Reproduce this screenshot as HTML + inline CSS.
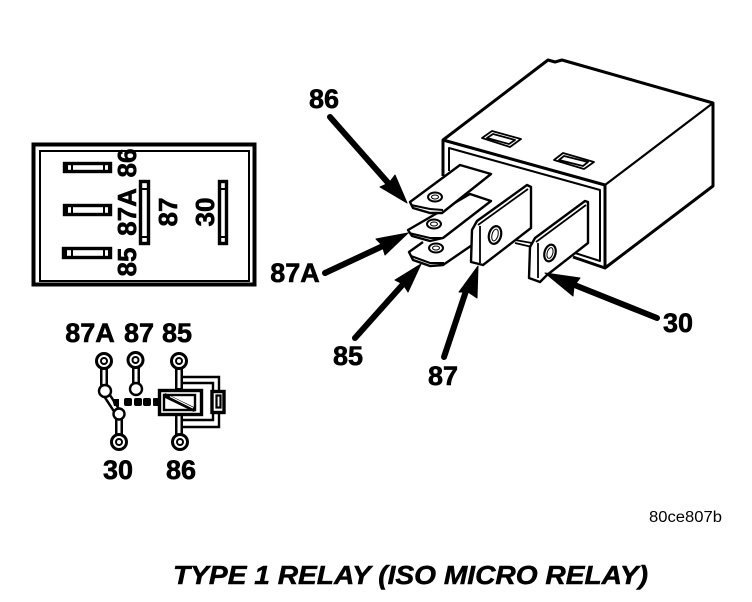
<!DOCTYPE html>
<html><head><meta charset="utf-8"><style>
html,body{margin:0;padding:0;background:#fff;width:752px;height:602px;overflow:hidden}
svg{display:block}
text{font-family:"Liberation Sans",sans-serif;font-weight:bold;fill:#000}
.l{font-size:27px;text-anchor:middle;stroke:#000;stroke-width:.6px}
.r{font-size:26px;text-anchor:middle;stroke:#000;stroke-width:.6px}
</style></head><body>
<svg width="752" height="602" viewBox="0 0 752 602" xmlns="http://www.w3.org/2000/svg">
<!-- Pin box -->
<g fill="none" stroke="#000">
<rect x="33.500" y="144.500" width="221" height="140" stroke-width="4"/>
<rect x="40" y="151" width="209" height="130" stroke-width="2"/>
<g stroke-width="3.400" fill="#fff">
<rect x="64.500" y="163.500" width="46" height="8"/>
<rect x="64.500" y="205.500" width="46" height="9"/>
<rect x="63.500" y="248.500" width="47" height="9"/>
<rect x="140.500" y="181.500" width="8" height="62"/>
<rect x="219.500" y="181.500" width="7" height="62"/>
</g>
</g>
<g fill="#000"><rect x="64" y="163" width="4" height="9"/><rect x="71" y="163" width="2" height="9"/><rect x="103" y="163" width="2" height="9"/><rect x="108" y="163" width="3" height="9"/><rect x="64" y="205" width="4" height="10"/><rect x="71" y="205" width="2" height="10"/><rect x="103" y="205" width="2" height="10"/><rect x="108" y="205" width="3" height="10"/><rect x="63" y="248" width="4" height="10"/><rect x="71" y="248" width="2" height="10"/><rect x="103" y="248" width="2" height="10"/><rect x="108" y="248" width="3" height="10"/><rect x="140" y="188" width="9" height="2"/><rect x="140" y="236" width="9" height="2"/><rect x="219" y="188" width="8" height="2"/><rect x="219" y="236" width="8" height="2"/></g>
<g>
<text class="r" transform="translate(136,163) rotate(-90)">86</text>
<text class="r" transform="translate(136,212) rotate(-90)">87A</text>
<text class="r" transform="translate(136,262) rotate(-90)">85</text>
<text class="r" transform="translate(177,212) rotate(-90)">87</text>
<text class="r" transform="translate(214,212) rotate(-90)">30</text>
</g>
<!-- Schematic -->
<text class="l" x="90" y="342">87A</text>
<text class="l" x="139" y="342">87</text>
<text class="l" x="177" y="342">85</text>
<text class="l" x="118" y="479">30</text>
<text class="l" x="181" y="479">86</text>
<g fill="none" stroke-linecap="butt">
<g stroke="#000" stroke-width="8">
<path d="M104 361V391L119 414V442"/><path d="M136 361V389"/><path d="M179 361V442"/>
</g>
<g stroke="#fff" stroke-width="3">
<path d="M104 366V391L119 414V436"/><path d="M136 366V385"/><path d="M179 366V388M179 416V436"/>
</g>
<g stroke="#000" stroke-width="2.400">
<path d="M183 377H219V391M183 383H213V391M183 420H213V413M183 427H219V412"/>
<rect x="159.500" y="390.500" width="42" height="24" stroke-width="3.400" fill="#fff"/>
<rect x="164" y="395" width="31" height="15" stroke-width="2.400"/>
<path d="M164 395L195 410" stroke-width="4.500"/><path d="M170 396.500L193 408" stroke="#fff" stroke-width="1.200"/>
<rect x="212" y="391.500" width="12" height="21" stroke-width="3.400" fill="#fff"/>
<rect x="216.500" y="395.500" width="4" height="12" stroke-width="2.200"/>
</g>
</g>
<g fill="#000"><path d="M112 399h7v7h-5z"/><rect x="124" y="398" width="8" height="8" rx="2"/><rect x="134" y="398" width="8" height="8" rx="2"/><rect x="143" y="398" width="8" height="8" rx="2"/><rect x="153" y="398" width="6" height="8" rx="1"/></g>
<g fill="#fff" stroke="#000"><circle cx="105" cy="391" r="6" stroke-width="2.400"/><circle cx="136" cy="389" r="6" stroke-width="2.400"/><circle cx="119" cy="414" r="5.500" stroke-width="2.400"/>
<g stroke-width="3">
<circle cx="104" cy="361" r="7.500"/><circle cx="135.500" cy="360" r="7.500"/><circle cx="179" cy="361" r="7.500"/><circle cx="119" cy="442" r="7.500"/><circle cx="180" cy="442" r="7.500"/>
<circle cx="104" cy="361" r="3" stroke-width="2"/><circle cx="135.500" cy="360" r="3" stroke-width="2"/><circle cx="179" cy="361" r="3" stroke-width="2"/><circle cx="119" cy="442" r="3" stroke-width="2"/><circle cx="180" cy="442" r="3" stroke-width="2"/>
</g></g>
<!-- Relay body -->
<g fill="none" stroke="#000" stroke-linejoin="round">
<path d="M443 176V140L548 60L555 62L562 60L713 103V186L605 268L573 257" stroke-width="3"/>
<path d="M443 140L605 185V268" stroke-width="3"/>
<path d="M605 185L713 103" stroke-width="2.200"/>
<path d="M449 171V148L600 190V261L575 253" stroke-width="2"/>
<path d="M482 138L492 131L521 139L510 147Z M487 138L493 134L515 140L509 144Z" stroke-width="1.800"/>
<path d="M554 160L563 153L594 162L584 169Z M559 160L564 156L588 162L583 166Z" stroke-width="1.800"/>
<path d="M515 240L532 243M515 243L532 247" stroke-width="1.800"/>
</g>
<!-- Tabs -->
<g fill="#fff" stroke="#000" stroke-linejoin="round">
<path d="M423 242L409 252L413 260L430 266L443 265L478 241" stroke-width="2.400"/>
<path d="M411 256L430 263L444 263" stroke-width="2" fill="none"/>
<ellipse cx="436" cy="248" rx="7" ry="4.500" stroke-width="2"/><ellipse cx="436" cy="248" rx="3.500" ry="2" stroke-width="1"/>
<path d="M408 230L470 194L491 201L443 238L430 241L412 236Z" stroke-width="2.400"/>
<path d="M409 233L430 238L443 238" stroke-width="2" fill="none"/>
<ellipse cx="434" cy="224" rx="7" ry="4.500" stroke-width="2"/><ellipse cx="434" cy="224" rx="3.500" ry="2" stroke-width="1"/>
<path d="M410 202L460 165L491 174L442 213L430 213L413 208Z" stroke-width="2.400"/>
<path d="M411 205L430 209L443 210" stroke-width="2" fill="none"/>
<ellipse cx="435" cy="197" rx="7" ry="4.500" stroke-width="2"/><ellipse cx="435" cy="197" rx="3.500" ry="2" stroke-width="1"/>
<path d="M471 262L472 230L477 221L527 185L531 187V228L483 265Z" stroke-width="2.400"/>
<path d="M478 225L528 189M480 226V263" fill="none" stroke-width="1.800"/>
<ellipse cx="495" cy="235" rx="6" ry="9" transform="rotate(15 495 235)" stroke-width="2.200"/><ellipse cx="495" cy="235" rx="3" ry="6" transform="rotate(15 495 235)" stroke-width="1"/>
<path d="M529 278L530 247L535 238L585 201L588 202V243L547 275L540 282Z" stroke-width="2.400"/>
<path d="M536 242L586 205M538 243V278" fill="none" stroke-width="1.800"/>
<ellipse cx="550" cy="253" rx="5.500" ry="8.500" transform="rotate(15 550 253)" stroke-width="2.200"/><ellipse cx="550" cy="253" rx="2.800" ry="5.500" transform="rotate(15 550 253)" stroke-width="1"/>
</g>
<!-- Arrows -->
<g stroke="#000" stroke-width="6" stroke-linecap="round" fill="none">
<path d="M330 117L390 185"/><path d="M325 273L385 245"/><path d="M355 338L405 282"/><path d="M444 357L468 285"/><path d="M657 318L572 284"/>
</g>
<g fill="#000" stroke="#000" stroke-width="1" stroke-linejoin="round">
<polygon points="407,203 380,187 389,183 395,175"/>
<polygon points="408,233 376,239 382,245 385,255"/>
<polygon points="421,264 395,280 403,284 408,292"/>
<polygon points="478,266 459,292 468,292 477,298"/>
<polygon points="545,273 580,278 574,286 573,296"/>
</g>
<text class="l" x="324" y="108">86</text>
<text class="l" x="295" y="282">87A</text>
<text class="l" x="348" y="365">85</text>
<text class="l" x="443" y="385">87</text>
<text class="l" x="678" y="332">30</text>
<text x="649" y="522" font-size="15.500" textLength="73" lengthAdjust="spacingAndGlyphs" style="font-weight:normal">80ce807b</text>
<text x="173" y="584" font-size="26" font-style="italic" textLength="475" lengthAdjust="spacingAndGlyphs" stroke="#000" stroke-width=".5">TYPE 1 RELAY (ISO MICRO RELAY)</text>
</svg>
</body></html>
